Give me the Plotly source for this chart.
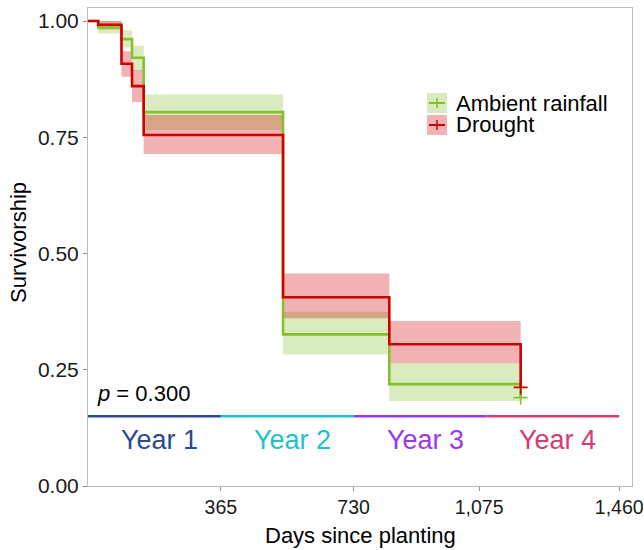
import plotly.graph_objects as go

# ---- data ----
days_ambient = [0, 28, 92, 121, 153, 536, 828, 1189]
surv_ambient = [1.0, 0.986, 0.961, 0.921, 0.804, 0.326, 0.219, 0.190]
lower_ambient = [1.0, 0.973, 0.943, 0.895, 0.766, 0.283, 0.183]
upper_ambient = [1.0, 1.0, 0.980, 0.947, 0.842, 0.375, 0.264]

days_drought = [0, 28, 92, 121, 153, 536, 828, 1189]
surv_drought = [1.0, 0.992, 0.908, 0.860, 0.755, 0.406, 0.305, 0.212]
lower_drought = [1.0, 0.982, 0.880, 0.826, 0.714, 0.361, 0.264]
upper_drought = [1.0, 1.0, 0.935, 0.895, 0.798, 0.457, 0.355]

year_labels = ["Year 1", "Year 2", "Year 3", "Year 4"]
year_bounds = [0, 365, 730, 1095, 1460]
year_colors = ["#2C4A8F", "#1DC3CA", "#9B38EE", "#D63B76"]
year_line_y = 0.15
year_text_y = 0.10

x_tickvals = [365, 730, 1075, 1460]
x_ticktext = ["365", "730", "1,075", "1,460"]
y_tickvals = [0, 0.25, 0.5, 0.75, 1.0]
y_ticktext = ["0.00", "0.25", "0.50", "0.75", "1.00"]

p_text = "<i>p</i> = 0.300"
x_title = "Days since planting"
y_title = "Survivorship"

groups = [
    ("Ambient rainfall", days_ambient, surv_ambient, lower_ambient, upper_ambient,
     "#86C12C", "rgba(134,193,44,0.30)"),
    ("Drought", days_drought, surv_drought, lower_drought, upper_drought,
     "#D00000", "rgba(204,0,0,0.30)"),
]

FONT = "Liberation Sans, Arial, Helvetica, sans-serif"

fig = go.Figure()

# confidence bands
for name, d, s, lo, up, col, fcol in groups:
    lo_full = lo + [lo[-1]]
    up_full = up + [up[-1]]
    fig.add_trace(go.Scatter(x=d, y=lo_full, mode="lines", line=dict(width=0, shape="hv"),
                             hoverinfo="skip", showlegend=False))
    fig.add_trace(go.Scatter(x=d, y=up_full, mode="lines", line=dict(width=0, shape="hv"),
                             fill="tonexty", fillcolor=fcol, hoverinfo="skip", showlegend=False))

# survival step lines
for name, d, s, lo, up, col, fcol in groups:
    fig.add_trace(go.Scatter(x=d, y=s, mode="lines", name=name,
                             line=dict(color=col, width=2.6, shape="hv"), showlegend=False))

# censor marks
for name, d, s, lo, up, col, fcol in groups:
    fig.add_trace(go.Scatter(x=[d[-1]], y=[s[-1]], mode="markers",
                             marker=dict(symbol="cross-thin", size=10, line=dict(color=col, width=1.6)),
                             showlegend=False, hoverinfo="skip"))

# year bar
for i, lab in enumerate(year_labels):
    x0, x1 = year_bounds[i], year_bounds[i + 1]
    fig.add_trace(go.Scatter(x=[x0, x1], y=[year_line_y, year_line_y], mode="lines",
                             line=dict(color=year_colors[i], width=2.6),
                             showlegend=False, hoverinfo="skip"))
    fig.add_annotation(x=(x0 + x1) / 2, y=year_text_y, text=lab, showarrow=False,
                       xshift=5, font=dict(size=27, color=year_colors[i], family=FONT))

# p-value
fig.add_annotation(x=20, y=0.2, text=p_text, showarrow=False, xanchor="left",
                   font=dict(size=22, color="black", family=FONT))

# layout geometry
L, R, T, B = 88, 12, 8, 64
W, H = 644, 550
pw, ph = W - L - R, H - T - B


def px(xp):
    return (xp - L) / pw


def py(yp):
    return (H - B - yp) / ph


# axis titles
fig.add_annotation(xref="paper", yref="paper", x=px(360), y=py(535), text=x_title,
                   showarrow=False, xanchor="center", yanchor="middle",
                   font=dict(size=22, color="black", family=FONT))
fig.add_annotation(xref="paper", yref="paper", x=px(18), y=py(243), text=y_title,
                   showarrow=False, xanchor="center", yanchor="middle", textangle=-90,
                   font=dict(size=22, color="black", family=FONT))

# manual legend (paper coords)
key_x0, key_x1 = 427, 447
for j, (name, d, s, lo, up, col, fcol) in enumerate(groups):
    ky0 = 93 + j * 22
    ky1 = ky0 + 20
    kc = (ky0 + ky1) / 2
    fig.add_shape(type="rect", xref="paper", yref="paper",
                  x0=px(key_x0), x1=px(key_x1), y0=py(ky1), y1=py(ky0),
                  fillcolor=fcol, line=dict(width=0))
    fig.add_shape(type="line", xref="paper", yref="paper",
                  x0=px(key_x0 + 2), x1=px(key_x1 - 2), y0=py(kc), y1=py(kc),
                  line=dict(color=col, width=2))
    fig.add_shape(type="line", xref="paper", yref="paper",
                  x0=px((key_x0 + key_x1) / 2), x1=px((key_x0 + key_x1) / 2),
                  y0=py(kc - 5), y1=py(kc + 5),
                  line=dict(color=col, width=1.5))
    fig.add_annotation(xref="paper", yref="paper", x=px(454), y=py(kc), text=name,
                       showarrow=False, xanchor="left", yanchor="middle",
                       font=dict(size=22, color="black", family=FONT))

axis_common = dict(showgrid=False, zeroline=False, showline=True, mirror=True,
                   linecolor="#BDBDBD", linewidth=1, ticks="outside", ticklen=4,
                   tickcolor="#8C8C8C", automargin=False, ticklabeloverflow="allow")

fig.update_layout(
    width=W, height=H,
    margin=dict(l=L, r=R, t=T, b=B),
    plot_bgcolor="white", paper_bgcolor="white",
    showlegend=False,
    xaxis=dict(range=[0, 1495], tickvals=x_tickvals, ticktext=x_ticktext,
               tickfont=dict(size=19.5, color="#1A1A1A", family=FONT), **axis_common),
    yaxis=dict(range=[0, 1.028], tickvals=y_tickvals, ticktext=y_ticktext,
               tickfont=dict(size=21, color="#1A1A1A", family=FONT), **axis_common),
)

fig.write_html("out.html",
               config={"displayModeBar": False},
               post_script="document.body.style.margin='0';document.body.style.padding='0';"
                           "document.documentElement.style.overflow='hidden';")
